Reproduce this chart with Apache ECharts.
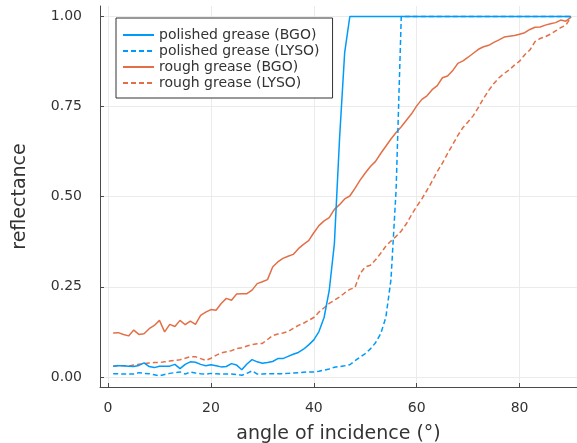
<!DOCTYPE html>
<html>
<head>
<meta charset="utf-8">
<script src="https://cdn.jsdelivr.net/npm/echarts@6/dist/echarts.min.js"></script>
<style>
html,body{margin:0;padding:0;background:#fff;}
#c{width:577px;height:443px;}
</style>
</head>
<body>
<div id="c"></div>
<script>
// angle of incidence (degrees)
const angles = Array.from({length: 90}, (_, i) => i + 1);

const seriesNames = ['polished grease (BGO)', 'polished grease (LYSO)', 'rough grease (BGO)', 'rough grease (LYSO)'];

const polishedBGO = [
  0.030, 0.031, 0.031, 0.030, 0.029, 0.032, 0.039, 0.029, 0.026, 0.030,
  0.030, 0.030, 0.035, 0.023, 0.035, 0.042, 0.041, 0.035, 0.031, 0.034,
  0.031, 0.028, 0.029, 0.037, 0.033, 0.020, 0.036, 0.048, 0.042, 0.038,
  0.040, 0.043, 0.051, 0.051, 0.057, 0.063, 0.068, 0.077, 0.089, 0.103,
  0.126, 0.165, 0.240, 0.370, 0.660, 0.900, 1.000, 1.000, 1.000, 1.000,
  1.000, 1.000, 1.000, 1.000, 1.000, 1.000, 1.000, 1.000, 1.000, 1.000,
  1.000, 1.000, 1.000, 1.000, 1.000, 1.000, 1.000, 1.000, 1.000, 1.000,
  1.000, 1.000, 1.000, 1.000, 1.000, 1.000, 1.000, 1.000, 1.000, 1.000,
  1.000, 1.000, 1.000, 1.000, 1.000, 1.000, 1.000, 1.000, 1.000, 1.000
];

const polishedLYSO = [
  0.009, 0.009, 0.008, 0.008, 0.008, 0.012, 0.010, 0.009, 0.006, 0.003,
  0.007, 0.010, 0.012, 0.014, 0.008, 0.014, 0.011, 0.009, 0.008, 0.010,
  0.009, 0.008, 0.008, 0.008, 0.007, 0.005, 0.010, 0.017, 0.008, 0.008,
  0.009, 0.009, 0.009, 0.009, 0.010, 0.011, 0.012, 0.013, 0.014, 0.014,
  0.016, 0.019, 0.022, 0.027, 0.029, 0.031, 0.034, 0.045, 0.055, 0.065,
  0.078, 0.095, 0.120, 0.165, 0.270, 0.520, 1.000, 1.000, 1.000, 1.000,
  1.000, 1.000, 1.000, 1.000, 1.000, 1.000, 1.000, 1.000, 1.000, 1.000,
  1.000, 1.000, 1.000, 1.000, 1.000, 1.000, 1.000, 1.000, 1.000, 1.000,
  1.000, 1.000, 1.000, 1.000, 1.000, 1.000, 1.000, 1.000, 1.000, 1.000
];

const roughBGO = [
  0.122, 0.123, 0.118, 0.114, 0.130, 0.118, 0.120, 0.134, 0.143, 0.157,
  0.125, 0.146, 0.140, 0.157, 0.145, 0.155, 0.146, 0.171, 0.180, 0.187,
  0.185, 0.204, 0.218, 0.213, 0.230, 0.231, 0.231, 0.241, 0.259, 0.264,
  0.270, 0.305, 0.319, 0.329, 0.335, 0.340, 0.356, 0.368, 0.378, 0.400,
  0.420, 0.433, 0.442, 0.465, 0.478, 0.494, 0.502, 0.523, 0.546, 0.566,
  0.584, 0.598, 0.620, 0.640, 0.660, 0.678, 0.694, 0.712, 0.730, 0.752,
  0.770, 0.780, 0.797, 0.808, 0.830, 0.835, 0.850, 0.870, 0.877, 0.887,
  0.898, 0.909, 0.916, 0.920, 0.928, 0.935, 0.943, 0.945, 0.947, 0.951,
  0.955, 0.964, 0.970, 0.971, 0.976, 0.980, 0.983, 0.990, 0.987, 0.998
];

const roughLYSO = [
  0.030, 0.032, 0.031, 0.030, 0.033, 0.035, 0.037, 0.039, 0.040, 0.040,
  0.042, 0.044, 0.046, 0.048, 0.052, 0.056, 0.056, 0.051, 0.046, 0.052,
  0.060, 0.067, 0.070, 0.073, 0.079, 0.081, 0.086, 0.090, 0.092, 0.093,
  0.104, 0.115, 0.119, 0.122, 0.126, 0.135, 0.143, 0.149, 0.157, 0.165,
  0.180, 0.192, 0.204, 0.213, 0.222, 0.233, 0.243, 0.248, 0.287, 0.305,
  0.310, 0.325, 0.343, 0.363, 0.377, 0.390, 0.405, 0.425, 0.450, 0.473,
  0.494, 0.518, 0.543, 0.570, 0.593, 0.620, 0.645, 0.670, 0.692, 0.708,
  0.725, 0.748, 0.773, 0.795, 0.814, 0.830, 0.842, 0.852, 0.865, 0.876,
  0.894, 0.907, 0.930, 0.939, 0.944, 0.951, 0.960, 0.969, 0.976, 0.998
];

const xTicks = [0, 20, 40, 60, 80];
const yTicks = [0, 0.25, 0.5, 0.75, 1.0];

const BLUE = '#009AFA';
const ORANGE = '#E36F47';
const AXIS = '#4a4a4a';
const FONT = 'DejaVu Sans';
const TXT = '#333333';

function pairs(ys) { return angles.map((a, i) => [a, ys[i]]); }

const valuesList = [polishedBGO, polishedLYSO, roughBGO, roughLYSO];
const colors = [BLUE, BLUE, ORANGE, ORANGE];
const dashed = [false, true, false, true];

const chart = echarts.init(document.getElementById('c'), null, {renderer: 'canvas'});
chart.setOption({
  animation: false,
  backgroundColor: '#ffffff',
  textStyle: {fontFamily: FONT},
  grid: {left: 100, right: 0, top: 6, bottom: 56, containLabel: false, outerBoundsMode: 'none'},
  legend: {
    show: true,
    orient: 'vertical',
    left: 116, top: 18,
    padding: [9, 13, 7, 6],
    itemGap: 0,
    itemWidth: 31,
    itemHeight: 14,
    borderColor: '#333333',
    borderWidth: 1,
    backgroundColor: '#ffffff',
    itemStyle: {opacity: 0},
    textStyle: {fontFamily: FONT, fontSize: 14, lineHeight: 16, color: TXT},
    data: seriesNames
  },
  xAxis: {
    type: 'value',
    min: -1.56, max: 91.16,
    name: 'angle of incidence (°)',
    nameLocation: 'middle',
    nameGap: 38,
    nameTextStyle: {fontFamily: FONT, fontSize: 19, color: TXT},
    axisLine: {show: true, onZero: false, lineStyle: {color: AXIS, width: 1}},
    axisTick: {show: true, inside: true, length: 4, customValues: xTicks, lineStyle: {color: AXIS}},
    axisLabel: {customValues: xTicks, fontFamily: FONT, fontSize: 14, color: TXT, margin: 14},
    splitLine: {show: true, lineStyle: {color: '#ebebeb', width: 1}}
  },
  yAxis: {
    type: 'value',
    min: -0.0278, max: 1.0291,
    name: 'reflectance',
    nameLocation: 'middle',
    nameGap: 70,
    nameRotate: 90,
    nameTextStyle: {fontFamily: FONT, fontSize: 19, color: TXT},
    axisLine: {show: true, onZero: false, lineStyle: {color: AXIS, width: 1}},
    axisTick: {show: true, inside: true, length: 4, customValues: yTicks, lineStyle: {color: AXIS}},
    axisLabel: {customValues: yTicks, fontFamily: FONT, fontSize: 14, color: TXT, margin: 18,
      formatter: v => v.toFixed(2)},
    splitLine: {show: true, lineStyle: {color: '#ebebeb', width: 1}}
  },
  series: seriesNames.map((name, k) => ({
    name: name,
    type: 'line',
    data: pairs(valuesList[k]),
    symbol: 'none',
    showSymbol: false,
    smooth: false,
    lineStyle: {color: colors[k], width: 1.5, type: dashed[k] ? [5, 3] : 'solid'},
    itemStyle: {color: colors[k]},
    z: 2 + (4 - k)
  }))
});
</script>
</body>
</html>
